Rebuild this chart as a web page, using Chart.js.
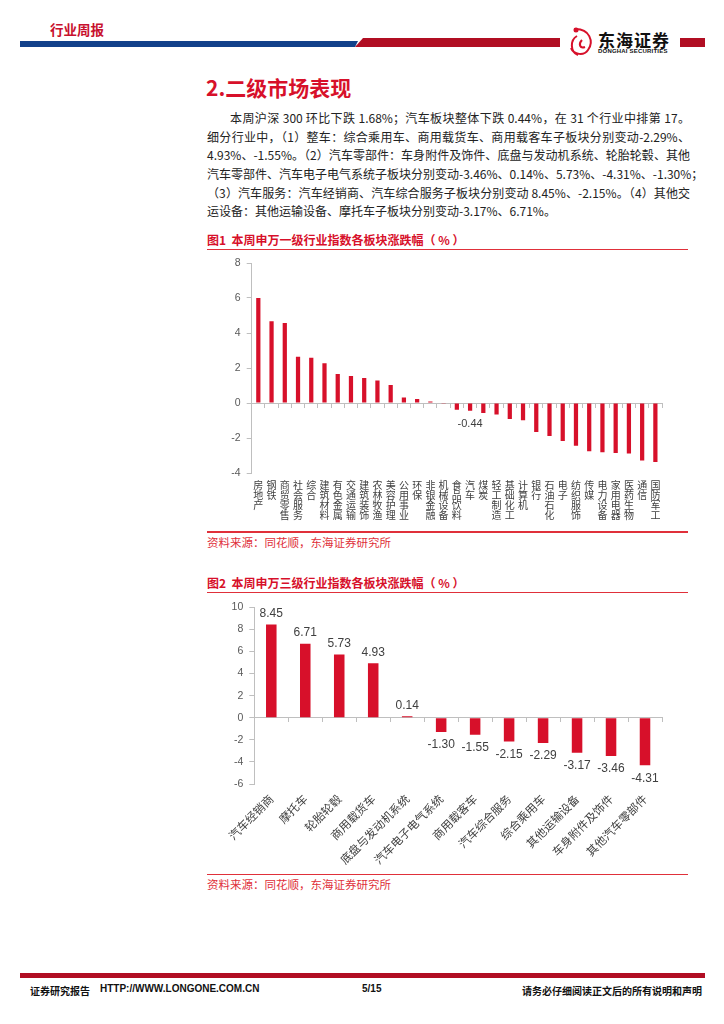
<!DOCTYPE html>
<html>
<head>
<meta charset="utf-8">
<script src="https://cdn.jsdelivr.net/npm/chart.js@4.4.1/dist/chart.umd.min.js"></script>
<style>
body { margin: 0; background: #fff; }
#page { position: relative; width: 724px; height: 1024px; overflow: hidden; font-family: "Noto Sans CJK SC", sans-serif; }
.abs { position: absolute; }
.para div { height: 18.7px; line-height: 18.7px; text-align: justify; text-align-last: justify; white-space: nowrap; }
.para div.last { text-align-last: left; }
.figtitle { color: #d7102a; font-weight: bold; font-size: 12px; }
.rule { background: #e0303a; height: 1.5px; }
.src { color: #e0303a; font-size: 11.5px; }
.foot { font-size: 10px; font-weight: bold; color: #111; top: 983px; }
</style>
</head>
<body>
<div id="page">
  <!-- header -->
  <div class="abs" style="left:50px;top:19px;font-size:13.5px;font-weight:bold;color:#c8102e;">行业周报</div>
  <svg class="abs" style="left:0;top:0" width="724" height="70">
    <polygon points="20,41 358,41 355,47 20,47" fill="#12418a"/>
    <polygon points="363,38 560,38 560,47 355,47" fill="#b10e23"/>
    <rect x="680" y="38" width="25" height="9" fill="#b10e23"/>
    <path d="M574,29 C590,28 594,42 588,50 C584,56 574,55 571,48 M577,36 C570,40 570,52 578,55 M582,40 C578,44 580,49 585,47" stroke="#d7102a" stroke-width="2" fill="none"/>
    <circle cx="576" cy="30" r="2.5" fill="#d7102a"/>
  </svg>
  <div class="abs" style="left:598px;top:27px;font-size:17px;font-weight:bold;letter-spacing:1px;color:#111;">东海证券</div>
  <div class="abs" style="left:598px;top:48px;font-size:6px;font-weight:bold;font-family:'Liberation Sans';color:#111;letter-spacing:0.2px;">DONGHAI SECURITIES</div>

  <!-- section title + text -->
  <div class="abs" style="left:206px;top:72px;font-size:21px;font-weight:bold;color:#d7102a;">2.二级市场表现</div>
  <div class="abs para" style="left:207px;top:109px;width:483px;font-size:12px;color:#222;">
    <div style="padding-left:23px;">本周沪深 300 环比下跌 1.68%；汽车板块整体下跌 0.44%，在 31 个行业中排第 17。</div>
    <div>细分行业中，（1）整车：综合乘用车、商用载货车、商用载客车子板块分别变动-2.29%、</div>
    <div>4.93%、-1.55%。（2）汽车零部件：车身附件及饰件、底盘与发动机系统、轮胎轮毂、其他</div>
    <div>汽车零部件、汽车电子电气系统子板块分别变动-3.46%、0.14%、5.73%、-4.31%、-1.30%；</div>
    <div>（3）汽车服务：汽车经销商、汽车综合服务子板块分别变动 8.45%、-2.15%。（4）其他交</div>
    <div class="last">运设备：其他运输设备、摩托车子板块分别变动-3.17%、6.71%。</div>
  </div>

  <!-- figure 1 -->
  <div class="abs figtitle" style="left:207px;top:231px;">图1&nbsp;&nbsp;本周申万一级行业指数各板块涨跌幅（&nbsp;%&nbsp;）</div>
  <div class="abs rule" style="left:207px;top:248.5px;width:481px;"></div>
  <canvas id="chart1" class="abs" style="left:200px;top:250px;" width="490" height="280"></canvas>
  <div class="abs rule" style="left:207px;top:531px;width:481px;"></div>
  <div class="abs src" style="left:207px;top:534px;">资料来源：同花顺，东海证券研究所</div>

  <!-- figure 2 -->
  <div class="abs figtitle" style="left:207px;top:574px;">图2&nbsp;&nbsp;本周申万三级行业指数各板块涨跌幅（&nbsp;%&nbsp;）</div>
  <div class="abs rule" style="left:207px;top:591.5px;width:481px;"></div>
  <canvas id="chart2" class="abs" style="left:200px;top:595px;" width="490" height="278"></canvas>
  <div class="abs rule" style="left:207px;top:873.5px;width:481px;"></div>
  <div class="abs src" style="left:207px;top:876px;">资料来源：同花顺，东海证券研究所</div>

  <!-- footer -->
  <div class="abs" style="left:20px;top:973px;width:685px;height:4.5px;background:#b10e23;"></div>
  <div class="abs foot" style="left:30px;">证券研究报告</div>
  <div class="abs foot" style="left:100px;font-family:'Liberation Sans';">HTTP://WWW.LONGONE.COM.CN</div>
  <div class="abs foot" style="left:362px;font-family:'Liberation Sans';">5/15</div>
  <div class="abs foot" style="left:522px;">请务必仔细阅读正文后的所有说明和声明</div>
</div>

<script>
// 图1 申万一级行业
const industries = ['房地产', '钢铁', '商贸零售', '社会服务', '综合', '建筑材料', '有色金属', '交通运输',
    '建筑装饰', '农林牧渔', '美容护理', '公用事业', '环保', '非银金融', '机械设备', '食品饮料', '汽车',
    '煤炭', '轻工制造', '基础化工', '计算机', '银行', '石油石化', '电子', '纺织服饰', '传媒', '电力设备',
    '家用电器', '医药生物', '通信', '国防军工']
const industryChange = [6.0, 4.67, 4.57, 2.65, 2.59, 2.27, 1.66, 1.54, 1.43, 1.28, 1.03, 0.32, 0.23, 0.08,
    -0.02, -0.38, -0.44, -0.57, -0.65, -0.91, -0.99, -1.66, -1.89, -2.17, -2.44, -2.76, -2.82, -2.86,
    -2.88, -3.28, -3.37]
const industryTicks = [-4, 8, 2] // min, max, step
const industryLabelled = ['汽车']

// 图2 申万三级行业（汽车）
const subSectors = ['汽车经销商', '摩托车', '轮胎轮毂', '商用载货车', '底盘与发动机系统', '汽车电子电气系统',
    '商用载客车', '汽车综合服务', '综合乘用车', '其他运输设备', '车身附件及饰件', '其他汽车零部件']
const subChange = [8.45, 6.71, 5.73, 4.93, 0.14, -1.30, -1.55, -2.15, -2.29, -3.17, -3.46, -4.31]
const subTicks = [-6, 10, 2]

const barRed = '#d7102a'
const axisGrey = '#bfbfbf'
const tickFont = { family: 'Liberation Sans', size: 10.5 }

const valueLabels = {
    id: 'valueLabels',
    afterDatasetsDraw(chart, args, opts) {
        const ctx = chart.ctx
        const meta = chart.getDatasetMeta(0)
        const values = chart.data.datasets[0].data
        ctx.save()
        ctx.font = opts.font
        ctx.fillStyle = opts.color
        ctx.textAlign = 'center'
        ctx.textBaseline = 'middle'
        meta.data.forEach((bar, i) => {
            if (opts.show && !opts.show[i]) return
            const v = values[i]
            const y = v >= 0 ? bar.y - opts.up : bar.y + opts.down
            ctx.fillText(v.toFixed(2), bar.x, y)
        })
        ctx.restore()
    },
}

function makeChart(id, labels, values, ticks, cfg) {
    return new Chart(id, {
        type: 'bar',
        data: {
            labels: labels,
            datasets: [{
                data: values,
                backgroundColor: barRed,
                barPercentage: cfg.barPct,
                categoryPercentage: 1,
                xAxisID: 'x',
            }],
        },
        plugins: [valueLabels],
        options: {
            responsive: false,
            animation: false,
            events: [],
            layout: { padding: { top: cfg.top, right: cfg.right, left: 0, bottom: 0 } },
            plugins: {
                legend: { display: false },
                tooltip: { enabled: false },
                valueLabels: cfg.labels,
            },
            scales: {
                y: {
                    min: ticks[0],
                    max: ticks[1],
                    afterFit: (s) => { s.width = cfg.yWidth },
                    ticks: { stepSize: ticks[2], color: '#595959', font: tickFont, padding: 6 },
                    grid: { drawOnChartArea: false, color: axisGrey, tickLength: 5 },
                    border: { color: axisGrey },
                },
                x: {
                    position: { y: 0 },
                    offset: true,
                    ticks: { display: false },
                    grid: { offset: true, drawOnChartArea: false, color: axisGrey, tickLength: 4 },
                    border: { color: axisGrey },
                },
                x2: {
                    axis: 'x',
                    type: 'category',
                    position: 'bottom',
                    offset: true,
                    afterFit: (s) => { s.height = cfg.xHeight },
                    grid: { display: false, drawTicks: false },
                    border: { display: false },
                    ticks: Object.assign({ autoSkip: false, color: '#404040' }, cfg.xTicks),
                },
            },
        },
    })
}

makeChart('chart1', industries.map((s) => s.split('')), industryChange, industryTicks, {
    barPct: 0.32, top: 13, right: 28, yWidth: 51.7, xHeight: 57,
    xTicks: { maxRotation: 0, minRotation: 0, padding: 7, font: { family: 'Noto Sans CJK SC', size: 10, lineHeight: 1.02 } },
    labels: { show: industries.map((s) => industryLabelled.includes(s)), font: '11px "Liberation Sans"', color: '#404040', up: 11, down: 13 },
})

makeChart('chart2', subSectors, subChange, subTicks, {
    barPct: 0.31, top: 10, right: 28, yWidth: 54.3, xHeight: 89,
    xTicks: { maxRotation: 45, minRotation: 45, padding: 8, font: { family: 'Noto Sans CJK SC', size: 11.5 } },
    labels: { font: '12px "Liberation Sans"', color: '#404040', up: 11, down: 13 },
})
</script>
</body>
</html>
